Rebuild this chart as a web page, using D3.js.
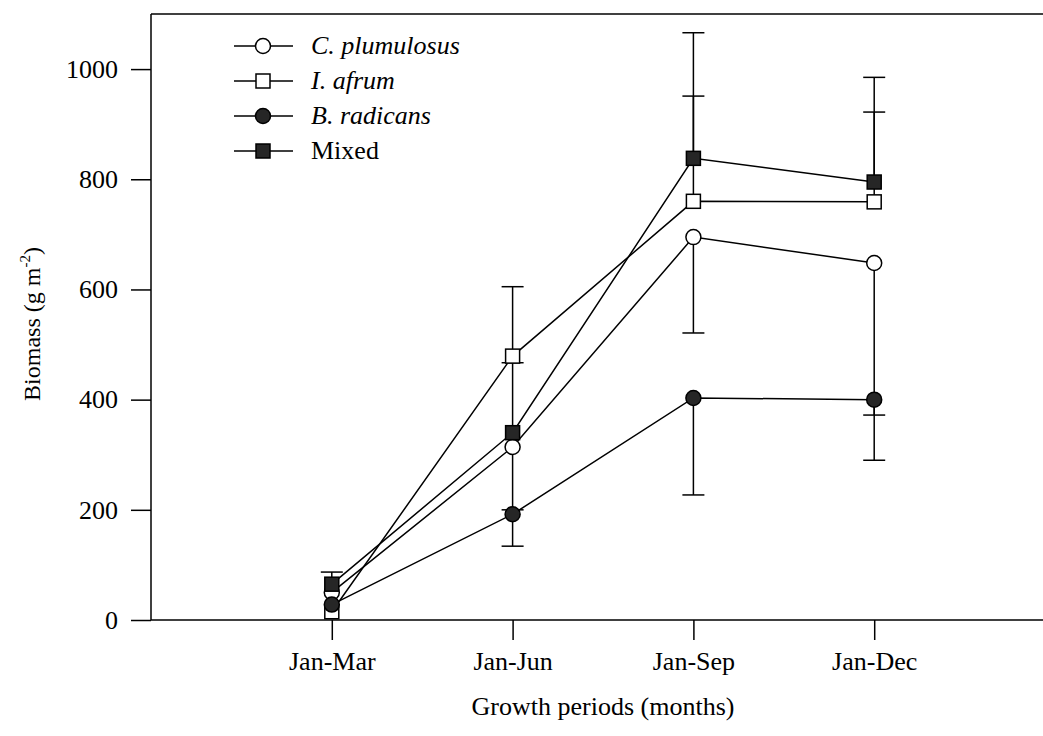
<!DOCTYPE html>
<html>
<head>
<meta charset="utf-8">
<script src="https://cdn.jsdelivr.net/npm/d3@7"></script>
<style>
  html, body { margin: 0; padding: 0; background: #fff; }
  svg { display: block; }
  text { font-family: "Liberation Serif", "DejaVu Serif", serif; fill: #000; }
</style>
</head>
<body>
<svg id="chart" width="1043" height="736"></svg>
<script>
// Growth periods on the x axis
const periods = ["Jan-Mar", "Jan-Jun", "Jan-Sep", "Jan-Dec"];

// Mean biomass (g m^-2) per period
const cPlumulosus = [50, 314, 695, 648];
const iAfrum      = [15, 479, 760, 759];
const bRadicans   = [28, 192, 403, 400];
const mixed       = [65, 340, 838, 795];

// One-sided error bars: positive = drawn upward, negative = drawn downward, null = none
const cPlumulosusErr = [null, -114, -174, -276];
const iAfrumErr      = [null, 126, 191, 163];
const bRadicansErr   = [null, -58, -176, -110];
const mixedErr       = [22, 127, 228, 190];

const yTicks = [0, 200, 400, 600, 800, 1000];

const series = [
  { name: "C. plumulosus", italic: true,  shape: "circle", filled: false, values: cPlumulosus, err: cPlumulosusErr },
  { name: "I. afrum",      italic: true,  shape: "square", filled: false, values: iAfrum,      err: iAfrumErr },
  { name: "B. radicans",   italic: true,  shape: "circle", filled: true,  values: bRadicans,   err: bRadicansErr },
  { name: "Mixed",         italic: false, shape: "square", filled: true,  values: mixed,       err: mixedErr }
];

const svg = d3.select("#chart");
const plotLeft = 151, plotTop = 14, plotBottom = 620, plotRight = 1055;
const fontSize = 26;

const x = d3.scaleLinear().domain([0, periods.length + 1]).range([plotLeft, plotRight]);
const y = d3.scaleLinear().domain([0, 1100]).range([plotBottom, plotTop]);

// Frame: top border line
svg.append("line")
  .attr("x1", plotLeft).attr("x2", 1043)
  .attr("y1", plotTop).attr("y2", plotTop)
  .attr("stroke", "#000").attr("stroke-width", 1.5);

// Y axis
const yAxis = svg.append("g")
  .attr("transform", `translate(${plotLeft},0)`)
  .call(d3.axisLeft(y).tickValues(yTicks).tickSize(20).tickPadding(13).tickFormat(d3.format("d")));
yAxis.select(".domain").attr("stroke-width", 1.5).attr("d", `M0,${plotBottom}V${plotTop}`);
yAxis.selectAll(".tick line").attr("stroke-width", 1.5);
yAxis.selectAll(".tick text").style("font-size", fontSize + "px")
  .style("font-family", "'Liberation Serif', serif");

// X axis
const xAxis = svg.append("g")
  .attr("transform", `translate(0,${plotBottom})`)
  .call(d3.axisBottom(x).tickValues(d3.range(1, periods.length + 1)).tickSize(20).tickPadding(12)
    .tickFormat(i => periods[i - 1]));
xAxis.select(".domain").attr("stroke-width", 1.5).attr("d", `M${plotLeft},0H1043`);
xAxis.selectAll(".tick line").attr("stroke-width", 1.5);
xAxis.selectAll(".tick text").style("font-size", fontSize + "px")
  .style("font-family", "'Liberation Serif', serif");

// Axis titles
svg.append("text")
  .attr("x", (plotLeft + plotRight) / 2).attr("y", 715)
  .attr("text-anchor", "middle")
  .style("font-size", fontSize + "px")
  .text("Growth periods (months)");

const yTitle = svg.append("text")
  .attr("transform", `translate(40,324) rotate(-90)`)
  .attr("text-anchor", "middle")
  .style("font-size", "24px");
yTitle.append("tspan").text("Biomass (g  m");
yTitle.append("tspan").attr("dy", -10).style("font-size", "15px").text("-2");
yTitle.append("tspan").attr("dy", 10).text(")");

const plot = svg.append("g");
const capHalf = 11;

// Error bars
series.forEach(s => {
  s.values.forEach((v, i) => {
    const e = s.err[i];
    if (e === null) return;
    const cx = x(i + 1), y0 = y(v), y1 = y(v + e);
    plot.append("line").attr("x1", cx).attr("x2", cx).attr("y1", y0).attr("y2", y1)
      .attr("stroke", "#000").attr("stroke-width", 1.5);
    plot.append("line").attr("x1", cx - capHalf).attr("x2", cx + capHalf).attr("y1", y1).attr("y2", y1)
      .attr("stroke", "#000").attr("stroke-width", 1.5);
  });
});

// Series lines
const line = d3.line().x((d, i) => x(i + 1)).y(d => y(d));
series.forEach(s => {
  plot.append("path").attr("d", line(s.values))
    .attr("fill", "none").attr("stroke", "#000").attr("stroke-width", 1.5);
});

function drawMarker(g, s, cx, cy) {
  const fill = s.filled ? "#262626" : "#fff";
  if (s.shape === "circle") {
    g.append("circle").attr("cx", cx).attr("cy", cy).attr("r", 7.5)
      .attr("fill", fill).attr("stroke", "#000").attr("stroke-width", 1.5);
  } else {
    g.append("rect").attr("x", cx - 7).attr("y", cy - 7).attr("width", 14).attr("height", 14)
      .attr("fill", fill).attr("stroke", "#000").attr("stroke-width", 1.5);
  }
}

// Markers
series.forEach(s => {
  s.values.forEach((v, i) => drawMarker(plot, s, x(i + 1), y(v)));
});

// Legend
const legend = svg.append("g");
series.forEach((s, k) => {
  const ly = 46 + k * 35;
  legend.append("line").attr("x1", 234).attr("x2", 293).attr("y1", ly).attr("y2", ly)
    .attr("stroke", "#000").attr("stroke-width", 1.5);
  drawMarker(legend, s, 263, ly);
  legend.append("text").attr("x", 311).attr("y", ly + 8)
    .style("font-size", fontSize + "px")
    .style("font-style", s.italic ? "italic" : "normal")
    .text(s.name);
});
</script>
</body>
</html>
